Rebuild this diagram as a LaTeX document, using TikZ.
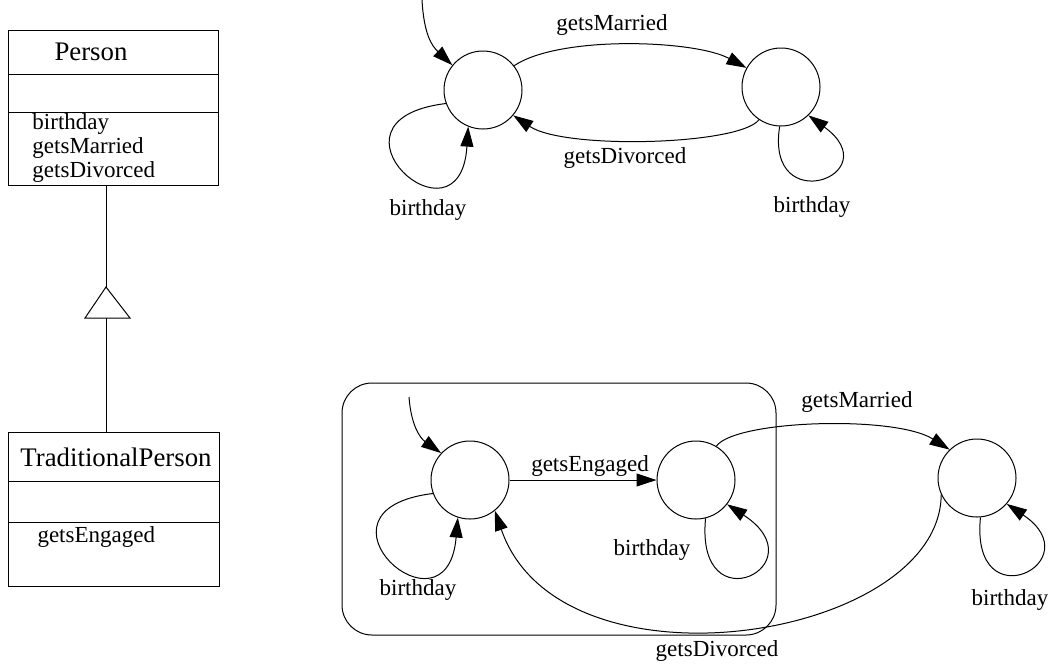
\documentclass[tikz,border=0pt]{standalone}
\usepackage{fontspec}
\setmainfont{Liberation Serif}
\usetikzlibrary{arrows.meta,calc}

\begin{document}
\begin{tikzpicture}[
    x=0.5pt, y=-0.5pt, line width=0.5pt,
    stcircle/.style={draw, circle, minimum size=39pt, inner sep=0pt},
    classbox/.style={draw, minimum width=105pt, minimum height=77.5pt, inner sep=0pt},
    lbl/.style={font=\fontsize{11.5}{11.8}\selectfont, inner sep=0pt},
    ttl/.style={font=\fontsize{13.4}{15}\selectfont, inner sep=0pt},
    arr/.style={-{Triangle[length=10pt,width=6.5pt]}}
]
\useasboundingbox (0,0) rectangle (1048,665);

% class diagram
\node[classbox] (person) at (113,107.5) {};
\draw (8,74) -- (218,74);
\draw (8,112) -- (218,112);
\node[ttl] (ptitle) at (91,52) {Person};
\node[lbl, anchor=west, align=left] (pmeth) at (32,148) {birthday\\getsMarried\\getsDivorced};

\node[classbox, minimum width=105.5pt, minimum height=77pt] (trad) at (113.5,509) {};
\draw (8,481) -- (219,481);
\draw (8,522) -- (219,522);
\node[ttl] (ttitle) at (116,457) {TraditionalPerson};
\node[lbl, anchor=west] (tmeth) at (37,537) {getsEngaged};

\coordinate (gentop) at (106,287);
\coordinate (genbase) at (106,318);
\draw (gentop) -- (85,318) -- (130,318) -- cycle;
\draw (person.south -| gentop) -- (gentop);
\draw (genbase) -- (genbase |- trad.north);

% Person states
\node[stcircle] (s1) at (483,90) {};
\node[stcircle] (s2) at (781,87) {};
\coordinate (init1) at (422,0);

\draw[arr] (init1) .. controls (424,35) and (432,46) .. (s1.141);
\draw[arr] (s1.38) .. controls (560,35) and (695,40) .. (s2.151);
\draw[arr] (s2.236) .. controls (740,145) and (565,150) .. (s1.320);
\draw[arr] (s1.200) .. controls (310,120) and (460,255) .. (s1.248);
\draw[arr] (s2.268) .. controls (765,220) and (890,175) .. (s2.314);

\node[lbl] (lm1) at (612,25) {getsMarried};
\node[lbl] (ld1) at (625,158) {getsDivorced};
\node[lbl] (lb1) at (428,210) {birthday};
\node[lbl] (lb2) at (812,207) {birthday};

% TraditionalPerson states
\draw[rounded corners=15pt] (342,383) rectangle (776,635);
\node[stcircle] (sA) at (470,480) {};
\node[stcircle] (sB) at (696,480) {};
\node[stcircle] (sC) at (977,478) {};
\coordinate (init2) at (409,397);

\draw[arr] (init2) .. controls (411,425) and (420,438) .. (sA.137);
\draw[arr] (sA) -- (sB);
\draw[arr] (sA.200) .. controls (297,510) and (447,645) .. (sA.252);
\draw[arr] (sB.284) .. controls (695,627) and (820,565) .. (sB.322);
\draw[arr] (sC.275) .. controls (970,623) and (1093,562) .. (sC.319);
\draw[arr] (sB.59) .. controls (735,420) and (895,415) .. (sC.134);
\draw[arr] (sC.205) .. controls (940,640) and (560,700) .. (sA.309);

\node[lbl] (le) at (590,466) {getsEngaged};
\node[lbl] (lbA) at (418,590) {birthday};
\node[lbl] (lbB) at (652,550) {birthday};
\node[lbl] (lbC) at (1010,600) {birthday};
\node[lbl] (lm2) at (857,402) {getsMarried};
\node[lbl] (ld2) at (717,651) {getsDivorced};
\end{tikzpicture}
\end{document}
